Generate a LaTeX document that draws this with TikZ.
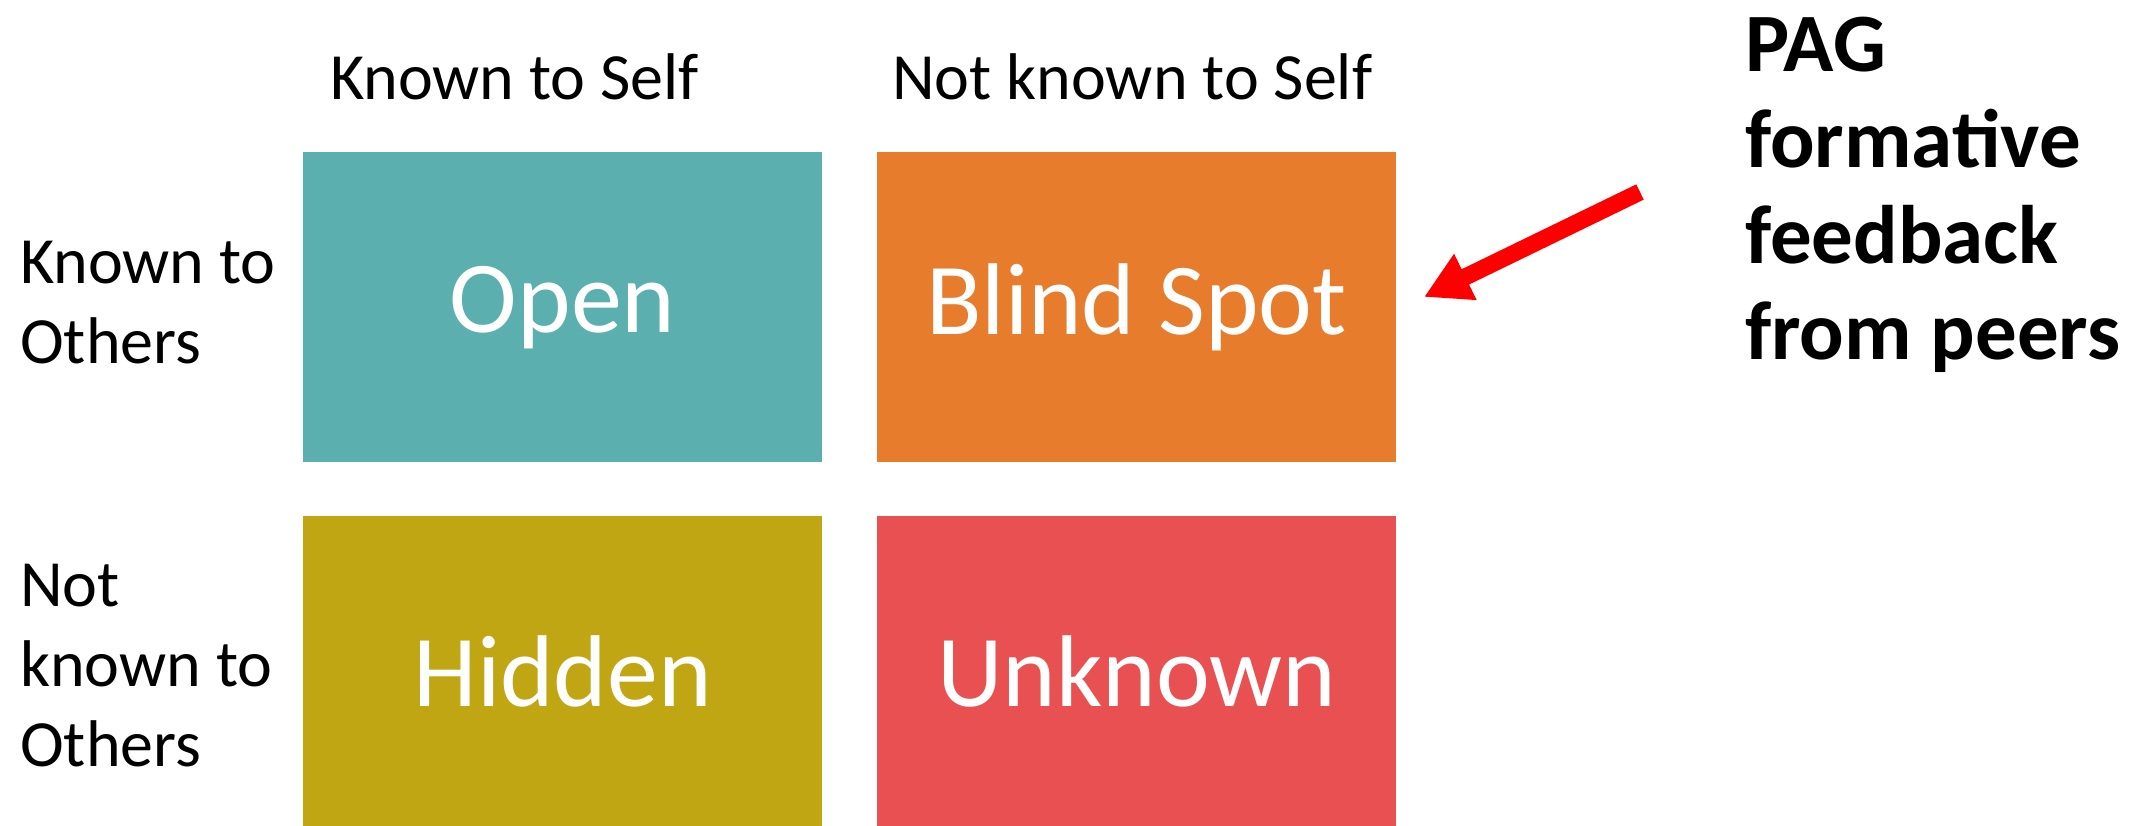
\documentclass[tikz,border=0pt]{standalone}
\usepackage{fontspec}
\setmainfont{Carlito}
\usetikzlibrary{arrows.meta}
\definecolor{openteal}{RGB}{91,175,175}
\definecolor{blindorange}{RGB}{230,124,44}
\definecolor{hiddenolive}{RGB}{191,166,18}
\definecolor{unknownred}{RGB}{233,80,82}
\begin{document}
\begin{tikzpicture}[x=1pt,y=-1pt,
  quad/.style={fill=#1, minimum width=519pt, minimum height=310pt,
    inner sep=0pt, anchor=north west, text=white,
    font=\fontsize{102}{110}\selectfont},
  axislabel/.style={inner sep=0pt, anchor=base west, align=left,
    font=\fontsize{66}{80}\selectfont},
  note/.style={inner sep=0pt, anchor=base west, align=left,
    font=\fontsize{83}{96}\selectfont\bfseries}]
\useasboundingbox (0,0) rectangle (2141,826);

% the four panes of the window
\node[quad=openteal]    (open)    at (303,152) {Open};
\node[quad=blindorange] (blind)   at (877,152) {Blind Spot};
\node[quad=hiddenolive] (hidden)  at (303,516) {Hidden};
\node[quad=unknownred]  (unknown) at (877,516) {Unknown};

% column headings
\node[axislabel] (selfknown)   at (330,100) {Known to Self};
\node[axislabel] (selfunknown) at (892,100) {Not known to Self};

% row headings (base anchor sits on the last line)
\node[axislabel] (othersknown)   at (20,363) {Known to\\Others};
\node[axislabel] (othersunknown) at (20,766) {Not\\known to\\Others};

% side note and its arrow
\node[note] (pag) at (1745,359) {PAG\\formative\\feedback\\from peers};
\coordinate (arrowtail) at (1640,192);
\coordinate (arrowtip)  at (1424,297);
\draw[red, line width=17pt, -{Triangle[width=48pt,length=46pt]}]
  (arrowtail) -- (arrowtip);
\end{tikzpicture}
\end{document}
